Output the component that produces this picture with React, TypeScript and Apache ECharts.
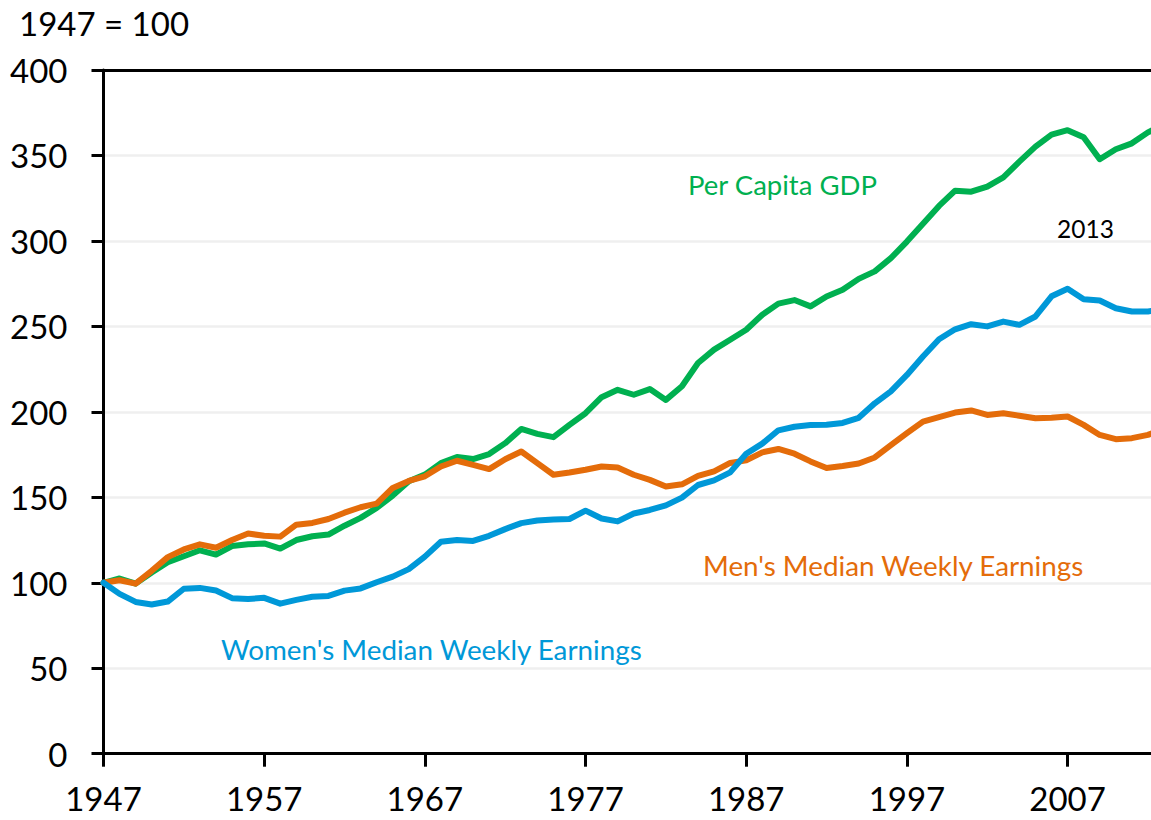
import React, { useEffect, useRef } from "react";
import * as echarts from "echarts";

const years: string[] = [];
for (let y = 1947; y <= 2013; y++) years.push(String(y));

const perCapitaGDP = [
  100, 102.5, 99.5, 106, 112, 115.5, 119, 116.5, 121.5, 122.5,
  123, 120, 125, 127.2, 128.2, 133.4, 138, 143.8, 151, 159.4,
  163.3, 170, 173.6, 172.4, 175.3, 181.7, 190, 187.1, 185.2, 192.4,
  199.2, 208.6, 212.9, 210, 213.3, 207, 215, 228.6, 236.4, 242.2,
  248, 256.8, 263.3, 265.4, 261.7, 267.5, 271.4, 277.8, 282.2, 289.9,
  299.6, 310, 320.5, 329.4, 328.8, 331.8, 337.2, 346.4, 355.2, 362.2,
  364.8, 360.6, 347.8, 353.6, 357.1, 363.5, 368,
];

const menEarnings = [
  100, 101.5, 99.5, 107, 115, 119.5, 122.5, 120.5, 125, 128.8,
  127.5, 127, 134, 135, 137.3, 141, 144.2, 146.3, 155.5, 159.6,
  162.3, 168, 171.4, 169, 166.5, 172.3, 176.8, 170, 163.2, 164.5,
  166.1, 168, 167.4, 163.2, 160.2, 156.3, 157.6, 162.5, 165.2, 170.1,
  171.6, 176.3, 178.3, 175.5, 171, 167.2, 168.3, 169.8, 173.3, 180.5,
  187.5, 194.3, 196.9, 199.6, 200.8, 198.2, 199.2, 197.7, 196.3, 196.6,
  197.3, 192.4, 186.5, 184, 184.6, 186.5, 190,
];

const womenEarnings = [
  100, 93.5, 88.8, 87.3, 89, 96.5, 97, 95.5, 91, 90.5,
  91.2, 87.8, 90, 91.8, 92.3, 95.4, 96.7, 100.3, 103.6, 108,
  115.3, 124, 125, 124.5, 127.5, 131.4, 134.9, 136.4, 137, 137.3,
  142.2, 137.6, 135.9, 140.5, 142.6, 145.3, 149.8, 157.2, 159.9, 164.6,
  175.5, 181.4, 189.2, 191.3, 192.3, 192.4, 193.5, 196.5, 205, 212,
  221.6, 232.4, 242.5, 248.3, 251.3, 250, 252.8, 250.9, 255.8, 267.6,
  272, 265.9, 265.1, 260.6, 258.7, 258.7, 260,
];

const GREEN = "#00B050";
const ORANGE = "#E46C0A";
const BLUE = "#0098D8";
const FONT = "Lato";

export default function App() {
  const ref = useRef<HTMLDivElement>(null);
  useEffect(() => {
    if (!ref.current) return;
    const chart = echarts.init(ref.current, null, { renderer: "svg" });
    const showEvery10 = (i: number) => i % 10 === 0;
    const lineSeries = (name: string, data: number[], color: string) => ({
      name,
      type: "line",
      data,
      symbol: "none",
      smooth: false,
      lineStyle: { color, width: 6, cap: "round", join: "round" },
      itemStyle: { color },
      emphasis: { disabled: true },
    });
    chart.setOption({
      animation: false,
      backgroundColor: "#ffffff",
      textStyle: { fontFamily: FONT },
      grid: { left: 103.5, right: 0, top: 70, bottom: 66.3, containLabel: false },
      xAxis: [
        {
          type: "category",
          data: years,
          boundaryGap: false,
          axisLine: { show: true, lineStyle: { color: "#000", width: 3 } },
          axisTick: { show: true, interval: showEvery10, length: 13, lineStyle: { color: "#000", width: 3 } },
          axisLabel: {
            interval: showEvery10,
            color: "#000",
            fontFamily: FONT,
            fontSize: 33,
            margin: 28,
          },
          splitLine: { show: false },
        },
        {
          type: "category",
          data: years,
          boundaryGap: false,
          position: "top",
          axisLine: { show: true, lineStyle: { color: "#000", width: 3 } },
          axisTick: { show: false },
          axisLabel: { show: false },
          splitLine: { show: false },
        },
      ],
      yAxis: {
        type: "value",
        min: 0,
        max: 400,
        interval: 50,
        axisLine: { show: true, lineStyle: { color: "#000", width: 3 } },
        axisTick: { show: true, length: 12, lineStyle: { color: "#000", width: 3 } },
        axisLabel: { color: "#000", fontFamily: FONT, fontSize: 33, margin: 36 },
        splitLine: { show: true, lineStyle: { color: "#EFEFEF", width: 2.5 } },
      },
      series: [
        lineSeries("Per Capita GDP", perCapitaGDP, GREEN),
        lineSeries("Men's Median Weekly Earnings", menEarnings, ORANGE),
        lineSeries("Women's Median Weekly Earnings", womenEarnings, BLUE),
      ],
      graphic: [
        {
          type: "text",
          left: 19,
          top: 6,
          style: { text: "1947 = 100", fill: "#000", font: `33px ${FONT}` },
        },
        {
          type: "text",
          x: 688,
          y: 184,
          style: { text: "Per Capita GDP", fill: GREEN, font: `27.5px ${FONT}`, textVerticalAlign: "middle" },
        },
        {
          type: "text",
          x: 1057,
          y: 228,
          style: { text: "2013", fill: "#000", font: `24.5px ${FONT}`, textVerticalAlign: "middle" },
        },
        {
          type: "text",
          x: 703,
          y: 565,
          style: { text: "Men's Median Weekly Earnings", fill: ORANGE, font: `27.8px ${FONT}`, textVerticalAlign: "middle" },
        },
        {
          type: "text",
          x: 221,
          y: 649,
          style: { text: "Women's Median Weekly Earnings", fill: BLUE, font: `27.8px ${FONT}`, textVerticalAlign: "middle" },
        },
      ],
    });
    return () => chart.dispose();
  }, []);
  return (
    <div
      style={{ position: "absolute", left: 0, top: 0, width: 1151, height: 820, overflow: "hidden", background: "#fff" }}
    >
      <div ref={ref} style={{ position: "absolute", left: 0, top: 0, width: 1164, height: 820 }} />
    </div>
  );
}
